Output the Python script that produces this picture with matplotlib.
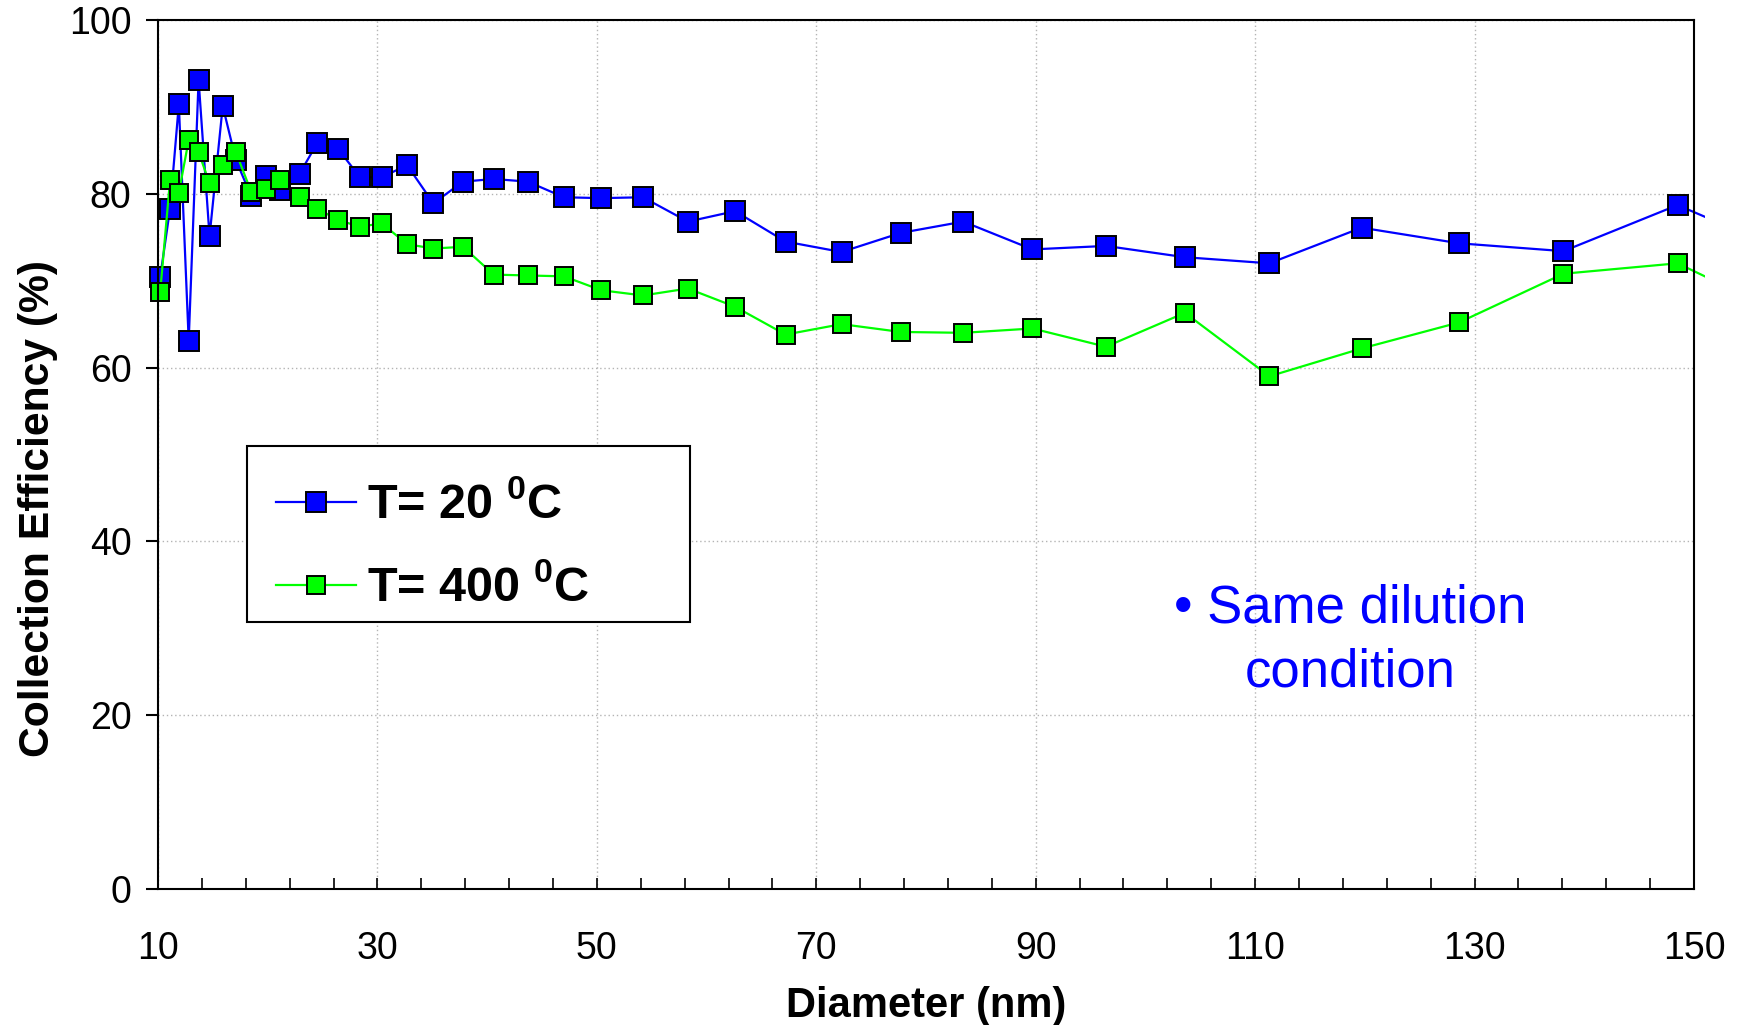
import numpy as np
import matplotlib
matplotlib.use("Agg")
import matplotlib.pyplot as plt
from matplotlib.patches import Rectangle

plt.rcParams['font.family'] = ['Liberation Sans', 'DejaVu Sans']
plt.rcParams['mathtext.fontset'] = 'custom'
plt.rcParams['mathtext.rm'] = 'Liberation Sans'
plt.rcParams['mathtext.bf'] = 'Liberation Sans:bold'

# particle diameter (nm), last bin lies just outside the plotted range
diameter = [10.2, 11.1, 11.9, 12.8, 13.7, 14.7, 15.9, 17.1, 18.5, 19.8,
            21.1, 22.9, 24.5, 26.4, 28.4, 30.4, 32.7, 35.1, 37.8, 40.6,
            43.7, 47.0, 50.4, 54.2, 58.3, 62.6, 67.2, 72.3, 77.7, 83.4,
            89.7, 96.4, 103.6, 111.3, 119.7, 128.6, 138.1, 148.5, 159.6]

# collection efficiency (%)
eff_20C = [70.4, 78.3, 90.3, 63.1, 93.1, 75.1, 90.1, 83.9, 79.7, 82.1,
           80.4, 82.3, 85.8, 85.2, 81.9, 81.9, 83.3, 78.9, 81.4, 81.7,
           81.4, 79.6, 79.5, 79.6, 76.8, 78.0, 74.5, 73.3, 75.5, 76.8,
           73.6, 74.0, 72.7, 72.0, 76.1, 74.3, 73.4, 78.7, 72.7]
eff_400C = [68.7, 81.6, 80.1, 86.2, 84.8, 81.2, 83.3, 84.8, 80.2, 80.6,
            81.6, 79.6, 78.3, 77.0, 76.2, 76.6, 74.2, 73.7, 73.9, 70.7,
            70.6, 70.5, 68.9, 68.3, 69.1, 67.0, 63.8, 65.0, 64.1, 64.0,
            64.5, 62.4, 66.3, 59.0, 62.2, 65.2, 70.8, 72.0, 65.3]

labels = ['T= 20 $^{\\mathbf{0}}$C', 'T= 400 $^{\\mathbf{0}}$C']
x_ticks = [10, 30, 50, 70, 90, 110, 130, 150]
y_ticks = [0, 20, 40, 60, 80, 100]

fig = plt.figure(figsize=(17.38, 10.25), dpi=100)
ax = fig.add_axes([0.0909, 0.1327, 0.8838, 0.8478])

l1, = ax.plot(diameter, eff_20C, color='#0000FF', lw=1.6, marker='s', ms=15,
              mfc='#0000FF', mec='black', mew=1.4, label=labels[0])
l2, = ax.plot(diameter, eff_400C, color='#00FF00', lw=1.6, marker='s', ms=13,
              mfc='#00FF00', mec='black', mew=1.4, label=labels[1])

# clip just a little past the right spine, markers at left edge stay whole
for ln in (l1, l2):
    ln.set_clip_path(Rectangle((0, -10), 151, 120, transform=ax.transData))
    ln.set_clip_on(True)

ax.set_xlim(10, 150)
ax.set_ylim(0, 100)
ax.set_xticks(x_ticks)
ax.set_xticks(np.arange(10, 151, 4), minor=True)
ax.set_yticks(y_ticks)

ax.grid(True, which='major', color='#b4b4b4', lw=1.0, ls=(0, (1, 2)))
ax.set_axisbelow(True)

for sp in ax.spines.values():
    sp.set_linewidth(1.5)

ax.tick_params(axis='x', which='both', direction='in', length=8, width=1.2,
               labelsize=27, pad=30, top=False)
ax.tick_params(axis='y', which='both', direction='out', length=9, width=1.5,
               labelsize=27, pad=10, right=False)

ax.set_xlabel('Diameter (nm)', fontsize=30, fontweight='bold', labelpad=14)
ax.set_ylabel('Collection Efficiency (%)', fontsize=30.7, fontweight='bold')
ax.yaxis.set_label_coords(-0.0654, 0.4375)

# legend box drawn on its own so the entries can sit low in it like the original
box = Rectangle((0.058, 0.3073), 0.2884, 0.2025, transform=ax.transAxes,
                facecolor='white', edgecolor='black', lw=1.5, zorder=4)
ax.add_patch(box)
leg = ax.legend(loc='upper left', bbox_to_anchor=(0.058, 0.5017),
                prop={'size': 35, 'weight': 'bold'}, frameon=False,
                handlelength=1.64, handletextpad=0.22, borderpad=0.6,
                labelspacing=0.75, borderaxespad=0)
leg.set_zorder(5)

ax.text(0.776, 0.286, '\u2022 Same dilution\ncondition', transform=ax.transAxes,
        ha='center', va='center', multialignment='center', linespacing=1.34,
        fontsize=38, color='#0000FF')

fig.savefig('out.png', dpi=100)
